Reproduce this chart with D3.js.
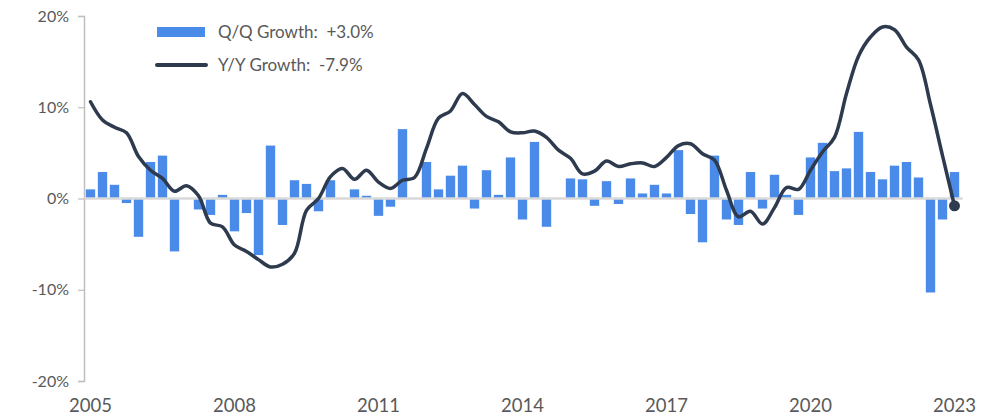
<!DOCTYPE html>
<html>
<head>
<meta charset="utf-8">
<script src="https://cdn.jsdelivr.net/npm/d3@7"></script>
<style>
  html, body { margin: 0; padding: 0; background: #fff; }
  svg text { font-family: Lato, "Open Sans", sans-serif; fill: #595959; white-space: pre; }
</style>
</head>
<body>
<svg id="chart" width="997" height="419"></svg>
<script>
// ---- data ----
const startYear = 2005;
const nQuarters = 73; // 2005Q1 .. 2023Q1
const quarters = d3.range(nQuarters).map(i => (startYear + Math.floor(i / 4)) + "Q" + (i % 4 + 1));

const qoqGrowth = [1.0, 2.9, 1.5, -0.5, -4.2, 4.0, 4.7, -5.8, 0.0, -1.2,
  -1.8, 0.4, -3.6, -1.6, -6.2, 5.8, -2.9, 2.0, 1.6, -1.4,
  2.0, 0.0, 1.0, 0.3, -1.9, -0.9, 7.6, 0.0, 4.0, 1.0,
  2.5, 3.6, -1.1, 3.1, 0.4, 4.5, -2.3, 6.2, -3.1, 0.0,
  2.2, 2.1, -0.8, 1.9, -0.6, 2.2, 0.55, 1.5, 0.55, 5.3,
  -1.7, -4.8, 4.7, -2.3, -2.9, 2.9, -1.1, 2.6, 0.4, -1.8,
  4.5, 6.1, 3.0, 3.3, 7.3, 2.9, 2.1, 3.6, 4.0, 2.3,
  -10.3, -2.3, 2.9];

const yoyGrowth = [10.6, 8.6, 7.8, 7.2, 4.6, 3.1, 2.2, 0.8, 1.4, 0.3,
  -2.7, -3.1, -5.1, -5.8, -6.7, -7.5, -7.2, -6.0, -1.3, 0.0,
  2.4, 3.3, 2.1, 3.1, 1.8, 1.1, 2.0, 2.3, 5.5, 8.8,
  9.6, 11.5, 10.3, 9.0, 8.4, 7.3, 7.2, 7.4, 6.7, 5.3,
  4.4, 2.7, 3.0, 4.1, 3.5, 3.8, 3.9, 3.5, 4.5, 5.8,
  6.0, 4.9, 4.2, 0.9, -2.0, -1.4, -2.8, -1.0, 1.2, 1.0,
  3.1, 5.1, 6.7, 11.5, 15.6, 17.7, 18.8, 18.5, 16.6, 15.2,
  10.3, 4.7, -0.8];

const yTicks = [20, 10, 0, -10, -20];
const xTickYears = [2005, 2008, 2011, 2014, 2017, 2020, 2023];
const legendItems = ["Q/Q Growth:  +3.0%", "Y/Y Growth:  -7.9%"];

// ---- layout ----
const svg = d3.select("#chart");
const plot = { left: 84.5, right: 960.5, top: 16, bottom: 381 };
const barColor = "#4a8ae8";
const lineColor = "#2e3a4d";

const x = d3.scaleBand().domain(quarters).range([plot.left, plot.right])
  .paddingInner(0.22).paddingOuter(0.11);
const y = d3.scaleLinear().domain([-20, 20]).range([plot.bottom, plot.top]);
const cx = q => x(q) + x.bandwidth() / 2;

// y axis
const yAxis = d3.axisLeft(y).tickValues(yTicks).tickSize(6).tickFormat(d => d + "%");
const gy = svg.append("g").attr("transform", `translate(${plot.left - 0.5},0)`).call(yAxis);
gy.select(".domain").attr("stroke", "#bfbfbf").attr("stroke-width", 1.5);
gy.selectAll(".tick line").attr("stroke", "#bfbfbf").attr("stroke-width", 1.2);
gy.selectAll(".tick text").attr("x", -15).style("font-size", "16px").attr("fill", "#595959");

// x labels
const gx = svg.append("g").attr("transform", `translate(0,${plot.bottom})`);
gx.selectAll("text").data(xTickYears).join("text")
  .attr("x", d => cx(d + "Q1"))
  .attr("y", 31)
  .attr("text-anchor", "middle")
  .style("font-size", "18.5px")
  .text(d => d);

// bars
svg.append("g").selectAll("rect").data(quarters).join("rect")
  .attr("x", q => x(q))
  .attr("width", x.bandwidth())
  .attr("y", (q, i) => y(Math.max(0, qoqGrowth[i])))
  .attr("height", (q, i) => Math.abs(y(qoqGrowth[i]) - y(0)))
  .attr("fill", barColor);

// zero line
svg.append("line")
  .attr("x1", plot.left).attr("x2", plot.right + 2)
  .attr("y1", y(0)).attr("y2", y(0))
  .attr("stroke", "#d9d9d9").attr("stroke-width", 2.5);

// yoy line
const line = d3.line().x((q) => cx(q)).y((q, i) => y(yoyGrowth[i])).curve(d3.curveCatmullRom.alpha(0.5));
svg.append("path").datum(quarters)
  .attr("d", line)
  .attr("fill", "none")
  .attr("stroke", lineColor)
  .attr("stroke-width", 3.5)
  .attr("stroke-linejoin", "round")
  .attr("stroke-linecap", "round");

// end dot
const lastQ = quarters[quarters.length - 1];
svg.append("circle")
  .attr("cx", cx(lastQ)).attr("cy", y(yoyGrowth[yoyGrowth.length - 1]))
  .attr("r", 5.5).attr("fill", lineColor);

// legend
const lg = svg.append("g");
lg.append("rect").attr("x", 157).attr("y", 27).attr("width", 48).attr("height", 10).attr("fill", barColor);
lg.append("line").attr("x1", 157).attr("x2", 206).attr("y1", 65).attr("y2", 65)
  .attr("stroke", lineColor).attr("stroke-width", 4).attr("stroke-linecap", "round");
lg.selectAll("text").data(legendItems).join("text")
  .attr("x", 218)
  .attr("y", (d, i) => 38 + i * 33)
  .style("font-size", "17px")
  .text(d => d);
</script>
</body>
</html>
